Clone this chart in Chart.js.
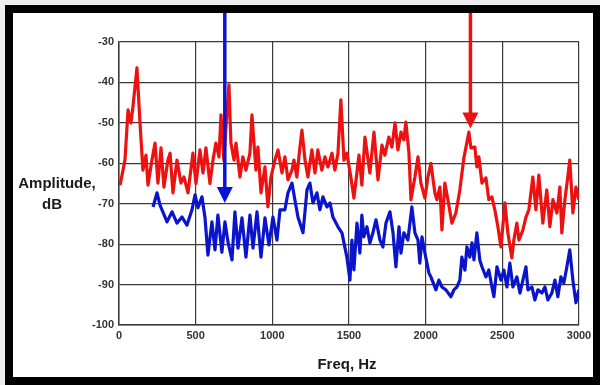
<!DOCTYPE html>
<html>
<head>
<meta charset="utf-8">
<script src="https://cdn.jsdelivr.net/npm/chart.js@4/dist/chart.umd.min.js"></script>
<style>
html,body{margin:0;padding:0;background:#f2f2f2;}
#wrap{position:relative;width:600px;height:385px;}
canvas{display:block;}
</style>
</head>
<body>
<div id="wrap"><canvas id="c" width="600" height="385"></canvas></div>
<script>
// ---- data ----
const redFreq = [7,39,59,78,91,117,137,156,176,189,215,235,254,274,293,319,333,352,378,404,424,450,482,502,528,548,567,593,613,632,652,665,684,698,717,730,750,763,789,808,828,854,867,893,906,926,952,971,991,1017,1037,1063,1082,1102,1128,1141,1160,1180,1193,1213,1232,1258,1278,1297,1323,1343,1363,1389,1408,1428,1447,1467,1486,1512,1532,1565,1584,1604,1636,1663,1689,1715,1734,1760,1780,1800,1819,1839,1858,1871,1891,1904,1930,1950,1969,1995,2015,2034,2060,2073,2093,2106,2125,2145,2171,2197,2223,2249,2282,2295,2321,2334,2347,2367,2393,2412,2432,2451,2471,2491,2517,2536,2562,2575,2595,2608,2634,2654,2673,2699,2719,2738,2764,2790,2810,2830,2856,2875,2888,2908,2927,2940,2960,2980,2999];
const redAmp = [-65.4,-59.2,-46.8,-50,-46,-36.4,-50,-61.7,-58,-65.4,-59.2,-55,-64.9,-56.2,-65.9,-59.2,-57.5,-67.3,-59.2,-64.9,-63.4,-67.3,-57.5,-65,-56.7,-62.4,-56.2,-65,-59.2,-55,-58.4,-48,-59.2,-51,-40.6,-55,-59.2,-55,-63.4,-58.4,-61.7,-57.5,-48,-61.7,-56,-67.3,-60.9,-70.8,-63.4,-59.2,-56.7,-62.4,-58.4,-64.1,-61.7,-59.2,-63.4,-56,-51.8,-59.2,-63.4,-56.7,-62.4,-56.7,-61.7,-58.4,-60.9,-57.5,-61.7,-57.5,-44.3,-59.2,-57.5,-63.4,-68.6,-58,-65.4,-53.5,-62.4,-52.3,-64.1,-55.5,-58,-53.5,-56,-50,-56.7,-52.3,-54.2,-49.8,-57.5,-69,-63.4,-58.4,-64.9,-68.6,-63.4,-60,-67.3,-69,-65.9,-76.5,-64.9,-69,-74.8,-72.3,-66.6,-58.7,-52.3,-56.2,-56,-60.9,-58.4,-64.9,-63.6,-69,-68.3,-71.5,-75.7,-80.7,-69.8,-77.2,-83.4,-79,-74.8,-79,-76.5,-73.3,-71.5,-63.4,-71.5,-62.9,-74.8,-66.6,-75.7,-69,-72.3,-65.9,-77.2,-69,-63.4,-59.2,-72.3,-65.9,-69];

const blueFreq = [222,248,267,313,346,378,411,443,476,496,515,541,561,580,606,626,645,671,691,711,737,756,776,802,828,854,874,900,926,952,978,1004,1030,1050,1082,1102,1128,1147,1167,1200,1226,1245,1265,1291,1310,1330,1356,1376,1395,1428,1454,1486,1506,1519,1532,1552,1571,1584,1597,1617,1636,1656,1676,1702,1721,1741,1767,1787,1806,1826,1839,1858,1884,1910,1930,1950,1962,1976,1995,2021,2034,2067,2086,2106,2132,2165,2184,2204,2223,2236,2256,2269,2288,2302,2315,2334,2353,2367,2393,2412,2432,2445,2465,2491,2510,2530,2549,2569,2595,2615,2634,2654,2667,2693,2712,2732,2758,2778,2797,2823,2843,2862,2882,2901,2921,2940,2960,2980,2999];
const blueAmp = [-70.8,-67.3,-70.3,-74.5,-72,-74.8,-73.3,-75.3,-71.5,-67.8,-71,-68.3,-73.5,-82.7,-74.5,-81.4,-72.8,-82,-74.5,-79.5,-83.9,-72,-81,-73.5,-83.2,-72.8,-81,-72,-83.2,-73.5,-80.2,-73.3,-79,-71.5,-71.5,-67.3,-64.9,-69,-73.3,-77.2,-66.6,-64.9,-69.8,-67.3,-71.5,-68.3,-70.8,-69.8,-73.3,-75.7,-77.2,-83.2,-88.9,-79,-86.4,-74.8,-82.2,-72.8,-78.2,-75.7,-79.7,-77.2,-74,-79,-80.7,-74.8,-72,-77.2,-85.6,-75.7,-82.2,-77.2,-79,-70.8,-77.2,-79,-84.7,-78.2,-82.2,-87.1,-88.1,-91.3,-88.9,-90.6,-91.3,-93,-91.3,-90.6,-88.9,-83.2,-86.4,-80.7,-83.2,-79.7,-83.9,-77.2,-83.9,-85.6,-88.1,-86.4,-90.6,-93,-85.6,-88.9,-86.4,-90.6,-84.7,-90.6,-88.1,-92.1,-88.9,-85.6,-91.3,-90.6,-93.8,-91.3,-92.1,-90.6,-93.8,-92.1,-88.9,-93,-88.1,-89.6,-85.6,-81.4,-88.9,-94.5,-91.3];

const xTicks = [0,500,1000,1500,2000,2500,3000];
const yTicks = [-30,-40,-50,-60,-70,-80,-90,-100];

// arrows: frequency and tip amplitude
const arrowFreq = [690, 2292];
const arrowTip = [-69.8, -51.4];
const arrowColor = ['#0a14d6', '#ee1111'];

const yTitle = ['Amplitude,', 'dB'];
const xTitle = 'Freq, Hz';

const FONT = '"Liberation Sans", Arial, sans-serif';

function pairs(xs, ys){ return xs.map((x,i)=>({x:x, y:ys[i]})); }

const framePlugin = {
  id: 'frame',
  beforeDraw(chart){
    const ctx = chart.ctx;
    ctx.save();
    ctx.fillStyle = '#eeeeee';
    ctx.fillRect(0,0,600,385);
    ctx.fillStyle = '#000';
    ctx.fillRect(5,5,595,380);
    ctx.fillStyle = '#fff';
    ctx.fillRect(13,13,580,364);
    ctx.restore();
  },
  afterDraw(chart){
    const ctx = chart.ctx;
    const xs = chart.scales.x, ys = chart.scales.y;
    ctx.save();
    // titles
    ctx.fillStyle = '#1a1a1a';
    ctx.font = 'bold 15px ' + FONT;
    ctx.textAlign = 'center';
    ctx.textBaseline = 'alphabetic';
    ctx.fillText(yTitle[0], 57, 188);
    ctx.fillText(yTitle[1], 52, 209);
    ctx.fillText(xTitle, (chart.chartArea.left + chart.chartArea.right)/2 - 2, 369);
    // arrows
    for (let i = 0; i < arrowFreq.length; i++){
      const x = xs.getPixelForValue(arrowFreq[i]);
      const tip = ys.getPixelForValue(arrowTip[i]);
      ctx.strokeStyle = arrowColor[i];
      ctx.fillStyle = arrowColor[i];
      ctx.lineWidth = 3.5;
      ctx.beginPath();
      ctx.moveTo(x, 13);
      ctx.lineTo(x, tip - 10);
      ctx.stroke();
      ctx.beginPath();
      ctx.moveTo(x - 8, tip - 16);
      ctx.lineTo(x + 8, tip - 16);
      ctx.lineTo(x, tip);
      ctx.closePath();
      ctx.fill();
    }
    ctx.restore();
  }
};

new Chart(document.getElementById('c'), {
  type: 'line',
  data: {
    datasets: [
      { data: pairs(redFreq, redAmp), borderColor: '#ee1111', borderWidth: 3.2, borderJoinStyle: 'round', pointRadius: 0, tension: 0, fill: false },
      { data: pairs(blueFreq, blueAmp), borderColor: '#0a14cc', borderWidth: 3.2, borderJoinStyle: 'round', pointRadius: 0, tension: 0, fill: false }
    ]
  },
  options: {
    responsive: false,
    animation: false,
    events: [],
    layout: { autoPadding: false, padding: { left: 0, right: 21, top: 42, bottom: 0 } },
    plugins: { legend: { display: false }, tooltip: { enabled: false } },
    scales: {
      x: {
        type: 'linear', min: 0, max: 3000,
        afterBuildTicks(s){ s.ticks = xTicks.map(v=>({value:v})); },
        afterFit(s){ s.height = 60; },
        grid: { color: '#3a3a3a', lineWidth: 1.2, drawTicks: false },
        border: { color: '#3a3a3a', width: 1.5 },
        ticks: { padding: 4, color: '#333', font: { family: FONT, size: 11, weight: 'bold' }, maxRotation: 0, autoSkip: false, callback: v => String(v) }
      },
      y: {
        min: -100, max: -30,
        afterBuildTicks(s){ s.ticks = yTicks.map(v=>({value:v})); },
        afterFit(s){ s.width = 119; },
        grid: { color: '#3a3a3a', lineWidth: 1.2, drawTicks: false },
        border: { color: '#3a3a3a', width: 1.5 },
        ticks: { padding: 5, color: '#333', font: { family: FONT, size: 11, weight: 'bold' }, autoSkip: false, callback: v => String(v) }
      }
    }
  },
  plugins: [framePlugin]
});
</script>
</body>
</html>
